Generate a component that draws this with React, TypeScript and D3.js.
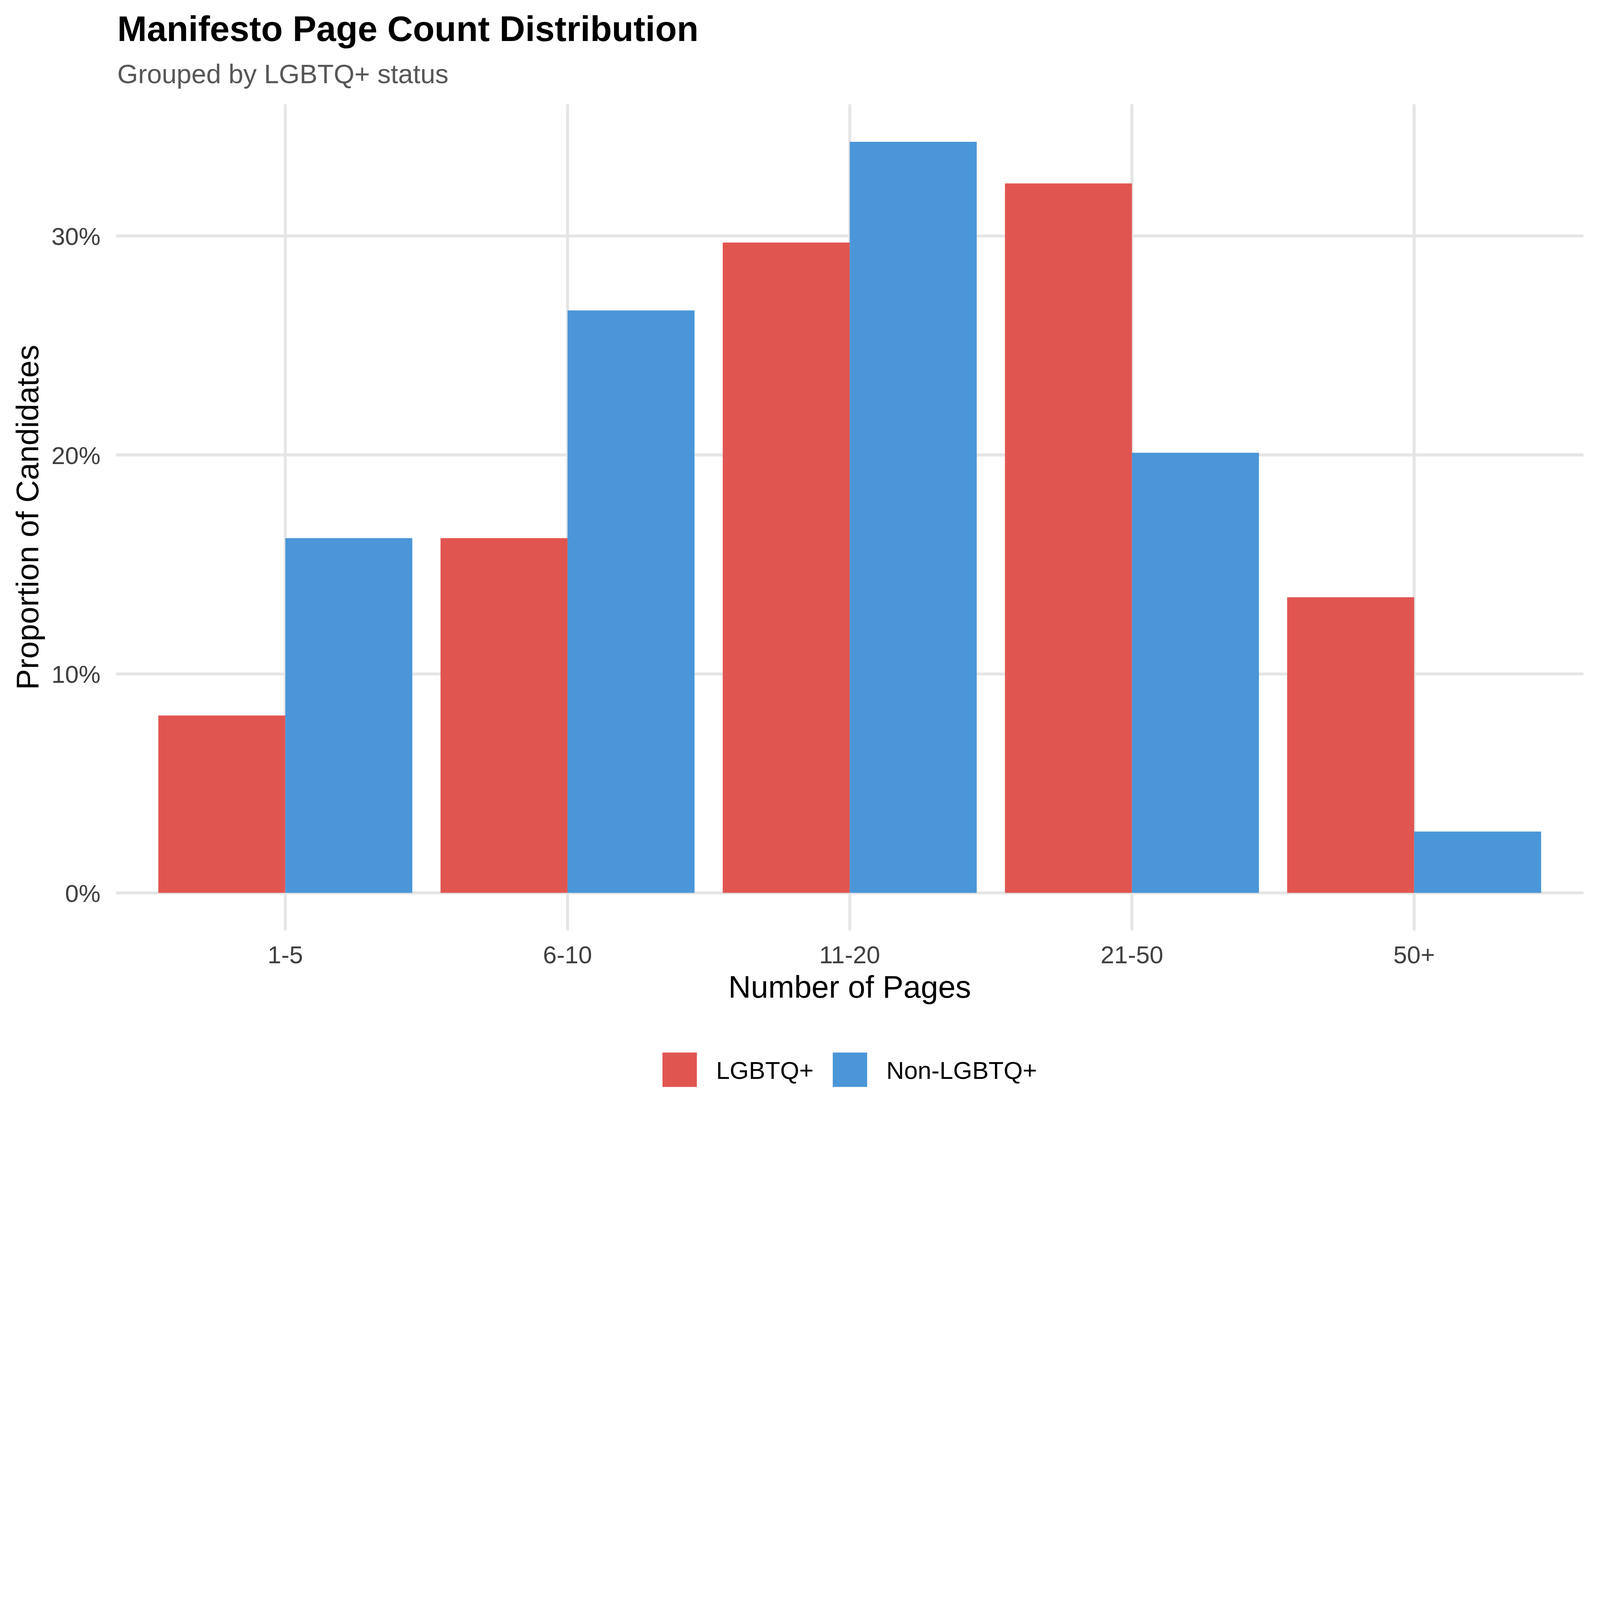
import * as React from 'react'
import { useEffect, useRef } from 'react'
import * as d3 from 'd3'

// page-count buckets and the share of candidates (in %) per group
const categories = ['1-5', '6-10', '11-20', '21-50', '50+']
const groups = ['LGBTQ+', 'Non-LGBTQ+']
const lgbtqShare = [8.1, 16.2, 29.7, 32.4, 13.5]
const nonLgbtqShare = [16.2, 26.6, 34.3, 20.1, 2.8]
const yTicks = [0, 10, 20, 30]
const groupColors = ['#E15550', '#4A96D8']

const FONT = '"Liberation Sans", Arial, Helvetica, sans-serif'

export default function App() {
  const svgRef = useRef<SVGSVGElement>(null)
  const width = 6000
  const height = 4200

  useEffect(() => {
    if (!svgRef.current) return
    const svg = d3.select(svgRef.current)
    svg.selectAll('*').remove()

    const panel = { left: 435, right: 5938, top: 391, bottom: 3489 }
    const series = [lgbtqShare, nonLgbtqShare]

    // ggplot-like expansion: discrete +0.6, continuous 5% both sides
    const x = d3.scaleLinear()
      .domain([0.4, categories.length + 0.6])
      .range([panel.left, panel.right])
    const yMax = d3.max(series.flat()) as number
    const pad = yMax * 0.05
    const y = d3.scaleLinear()
      .domain([-pad, yMax + pad])
      .range([panel.bottom, panel.top])

    svg.append('rect')
      .attr('width', width)
      .attr('height', height)
      .attr('fill', '#ffffff')

    // grid
    const grid = svg.append('g')
    grid.selectAll('.hgrid')
      .data(yTicks)
      .join('line')
      .attr('x1', panel.left)
      .attr('x2', panel.right)
      .attr('y1', d => y(d))
      .attr('y2', d => y(d))
      .attr('stroke', '#E5E5E5')
      .attr('stroke-width', 11)
    grid.selectAll('.vgrid')
      .data(categories)
      .join('line')
      .attr('x1', (d, i) => x(i + 1))
      .attr('x2', (d, i) => x(i + 1))
      .attr('y1', panel.top)
      .attr('y2', panel.bottom)
      .attr('stroke', '#E5E5E5')
      .attr('stroke-width', 11)

    // bars, dodged with total width 0.9
    const barW = 0.45
    series.forEach((vals, g) => {
      svg.append('g')
        .selectAll('rect')
        .data(vals)
        .join('rect')
        .attr('x', (d, i) => x(i + 1 - 0.45 + g * barW))
        .attr('width', x(1 + barW) - x(1))
        .attr('y', d => y(d))
        .attr('height', d => y(0) - y(d))
        .attr('fill', groupColors[g])
    })

    // y tick labels
    svg.append('g')
      .selectAll('text')
      .data(yTicks)
      .join('text')
      .attr('x', 377)
      .attr('y', d => y(d) + 34)
      .attr('text-anchor', 'end')
      .attr('font-family', FONT)
      .attr('font-size', 92)
      .attr('fill', '#404040')
      .text(d => `${d}%`)

    // x tick labels
    svg.append('g')
      .selectAll('text')
      .data(categories)
      .join('text')
      .attr('x', (d, i) => x(i + 1))
      .attr('y', 3612)
      .attr('text-anchor', 'middle')
      .attr('font-family', FONT)
      .attr('font-size', 92)
      .attr('fill', '#404040')
      .text(d => d)

    const midX = (panel.left + panel.right) / 2
    const midY = (panel.top + panel.bottom) / 2

    svg.append('text')
      .attr('x', midX)
      .attr('y', 3741)
      .attr('text-anchor', 'middle')
      .attr('font-family', FONT)
      .attr('font-size', 117)
      .attr('fill', '#000')
      .text('Number of Pages')

    svg.append('text')
      .attr('transform', `translate(143, ${midY}) rotate(-90)`)
      .attr('text-anchor', 'middle')
      .attr('font-family', FONT)
      .attr('font-size', 117)
      .attr('fill', '#000')
      .text('Proportion of Candidates')

    // title + subtitle
    svg.append('text')
      .attr('x', 440)
      .attr('y', 154)
      .attr('font-family', FONT)
      .attr('font-size', 133)
      .attr('font-weight', 'bold')
      .attr('fill', '#000')
      .text('Manifesto Page Count Distribution')
    svg.append('text')
      .attr('x', 440)
      .attr('y', 312)
      .attr('font-family', FONT)
      .attr('font-size', 100)
      .attr('fill', '#575757')
      .text('Grouped by LGBTQ+ status')

    // legend, centred under the panel
    const keySize = 129
    const gap = 72
    const legend = svg.append('g')
    let cursor = 0
    groups.forEach((name, g) => {
      legend.append('rect')
        .attr('x', cursor)
        .attr('y', 3947)
        .attr('width', keySize)
        .attr('height', keySize)
        .attr('fill', groupColors[g])
      const label = legend.append('text')
        .attr('x', cursor + keySize + gap)
        .attr('y', 4046)
        .attr('font-family', FONT)
        .attr('font-size', 92)
        .attr('fill', '#000')
        .text(name)
      const w = (label.node() as SVGTextElement).getComputedTextLength()
      cursor += keySize + gap + w + (g < groups.length - 1 ? gap : 0)
    })
    legend.attr('transform', `translate(${midX - cursor / 2}, 0)`)
  }, [])

  // the window is capped below 6000px, so scale the 6000x4200 drawing to fit it
  return (
    <>
      <style>{'html, body { margin: 0; padding: 0; background: #fff; overflow: hidden; }'}</style>
      <svg
        ref={svgRef}
        viewBox={`0 0 ${width} ${height}`}
        preserveAspectRatio="xMinYMin meet"
        style={{ display: 'block', width: '100vw', height: '100vh' }}
      />
    </>
  )
}
